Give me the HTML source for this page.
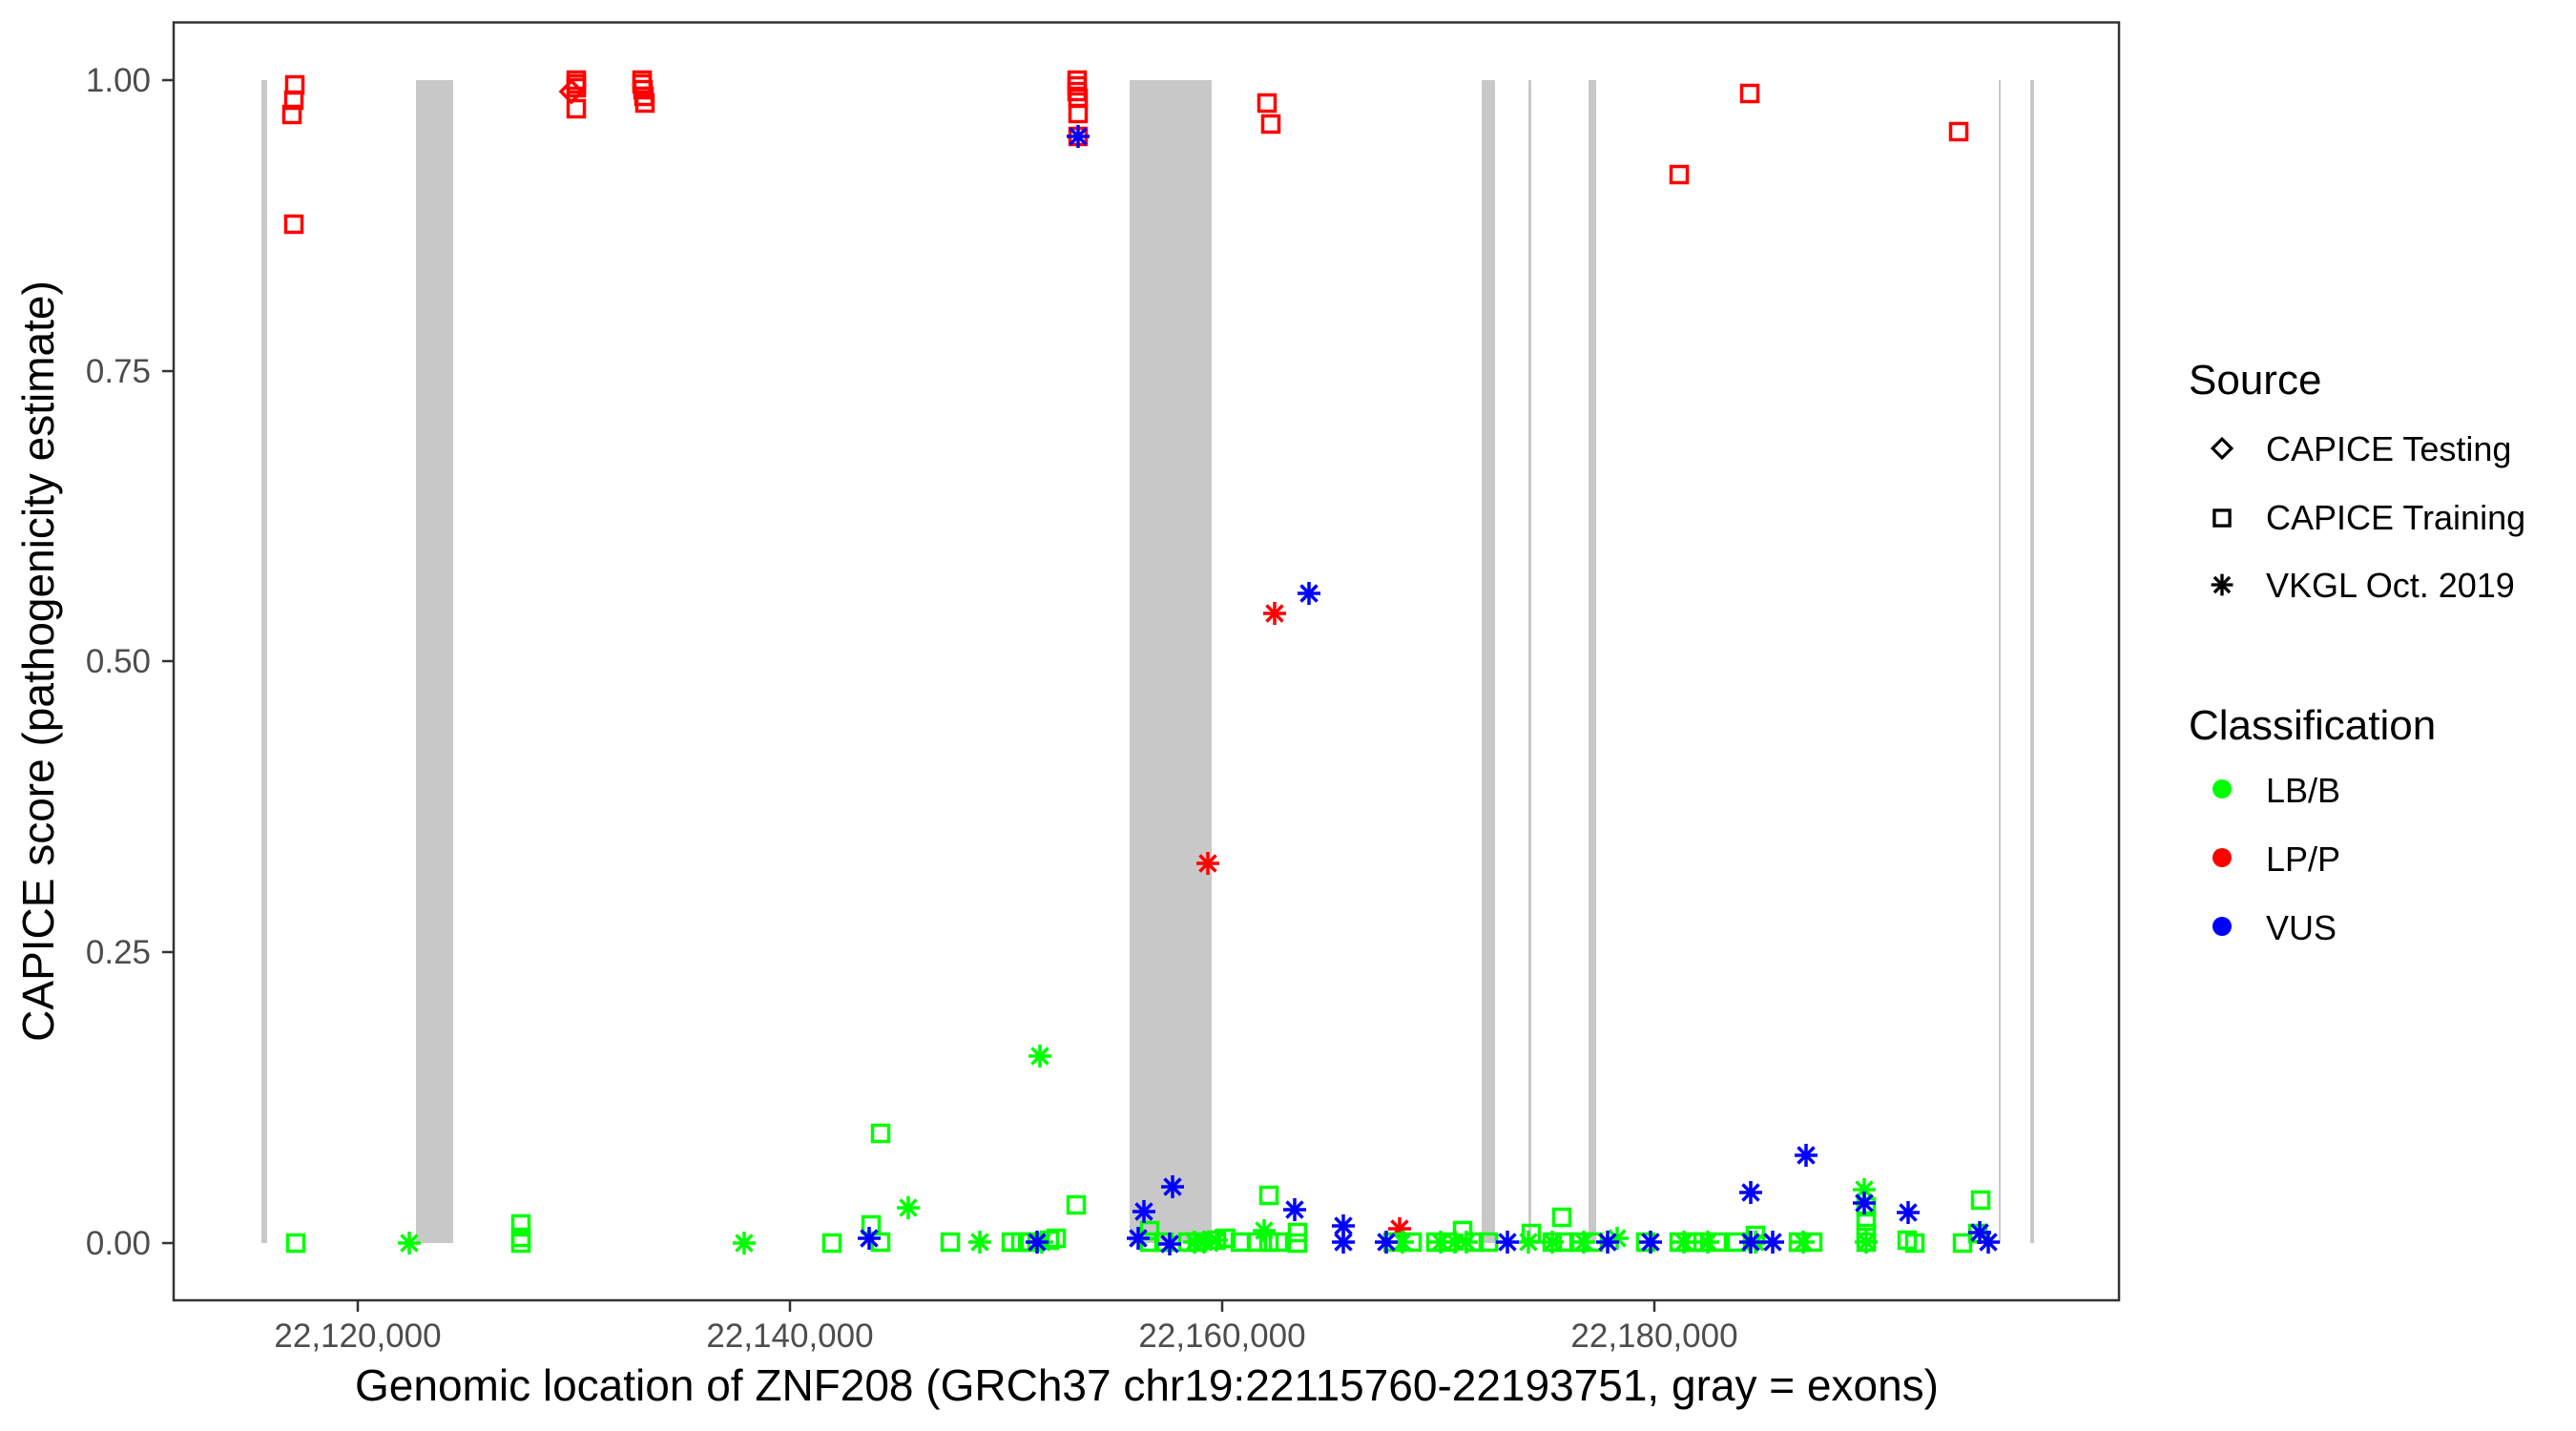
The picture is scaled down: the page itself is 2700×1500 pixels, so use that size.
<!DOCTYPE html>
<html><head><meta charset="utf-8"><style>
html,body{margin:0;padding:0;background:#fff;}
svg{display:block;font-family:"Liberation Sans",Arial,sans-serif;}
</style></head><body>
<svg width="2700" height="1500" viewBox="0 0 2700 1500" xmlns="http://www.w3.org/2000/svg">
<defs>
<g id="s"><rect x="-8.5" y="-8.5" width="17" height="17" fill="none" stroke="currentColor" stroke-width="3.5"/></g>
<g id="a" stroke="currentColor" stroke-width="3.5"><line x1="0" y1="-12" x2="0" y2="12"/><line x1="-12" y1="0" x2="12" y2="0"/><line x1="-8.5" y1="-8.5" x2="8.5" y2="8.5"/><line x1="-8.5" y1="8.5" x2="8.5" y2="-8.5"/></g>
<g id="d"><polygon points="0,-11 11,0 0,11 -11,0" fill="none" stroke="currentColor" stroke-width="3.5"/></g>
</defs>
<rect width="2700" height="1500" fill="#fff"/>
<g fill="#c8c8c8">
<rect x="274" y="84" width="6" height="1219"/>
<rect x="436" y="84" width="39" height="1219"/>
<rect x="1184" y="84" width="86" height="1219"/>
<rect x="1553" y="84" width="14" height="1219"/>
<rect x="1602" y="84" width="3" height="1219"/>
<rect x="1665" y="84" width="8" height="1219"/>
<rect x="2095" y="84" width="2" height="1219"/>
<rect x="2128" y="84" width="4" height="1219"/>
</g>
<g color="#ff0000">
<use href="#s" x="309" y="89"/><use href="#s" x="308" y="105"/><use href="#s" x="306" y="120"/><use href="#s" x="308" y="235"/>
<use href="#s" x="604" y="84"/><use href="#s" x="604" y="88"/><use href="#s" x="604" y="92"/><use href="#s" x="604" y="114"/><use href="#d" x="599" y="96"/>
<use href="#s" x="673" y="84"/><use href="#s" x="673" y="88"/><use href="#s" x="674" y="94"/><use href="#s" x="675" y="101"/><use href="#s" x="676" y="108"/>
<use href="#s" x="1129" y="84"/><use href="#s" x="1129" y="90"/><use href="#s" x="1129" y="96"/><use href="#s" x="1130" y="103"/><use href="#s" x="1130" y="119"/><use href="#s" x="1130" y="143"/>
<use href="#s" x="1328" y="108"/><use href="#s" x="1332" y="130"/>
<use href="#s" x="1760" y="183"/><use href="#s" x="1834" y="98"/><use href="#s" x="2053" y="138"/>
<use href="#a" x="1336" y="643"/><use href="#a" x="1266" y="905"/><use href="#a" x="1467" y="1288"/>
</g>
<g color="#00ff00">
<use href="#s" x="310" y="1303"/><use href="#a" x="429" y="1303"/>
<use href="#s" x="546" y="1283"/><use href="#s" x="546" y="1297"/><use href="#s" x="546" y="1303"/>
<use href="#a" x="780" y="1303"/><use href="#s" x="872" y="1303"/>
<use href="#s" x="923" y="1188"/><use href="#s" x="913" y="1284"/><use href="#s" x="923" y="1302"/>
<use href="#a" x="952" y="1266"/><use href="#s" x="996" y="1302"/><use href="#a" x="1027" y="1302"/>
<use href="#s" x="1060" y="1302"/><use href="#s" x="1070" y="1302"/><use href="#s" x="1080" y="1302"/><use href="#a" x="1092" y="1302"/><use href="#s" x="1100" y="1300"/><use href="#s" x="1107" y="1298"/>
<use href="#a" x="1090" y="1107"/><use href="#s" x="1128" y="1263"/>
<use href="#s" x="1205" y="1290"/><use href="#s" x="1205" y="1302"/><use href="#s" x="1220" y="1302"/><use href="#s" x="1245" y="1302"/><use href="#s" x="1255" y="1302"/>
<use href="#a" x="1252" y="1302"/><use href="#a" x="1262" y="1302"/><use href="#a" x="1275" y="1300"/><use href="#s" x="1275" y="1300"/><use href="#s" x="1285" y="1298"/><use href="#s" x="1300" y="1302"/>
<use href="#s" x="1330" y="1253"/><use href="#a" x="1325" y="1290"/><use href="#s" x="1318" y="1302"/><use href="#s" x="1330" y="1302"/><use href="#s" x="1340" y="1302"/>
<use href="#s" x="1360" y="1292"/><use href="#s" x="1360" y="1303"/>
<use href="#a" x="1470" y="1302"/><use href="#s" x="1480" y="1302"/><use href="#s" x="1460" y="1302"/>
<use href="#s" x="1505" y="1302"/><use href="#a" x="1510" y="1302"/><use href="#s" x="1518" y="1302"/><use href="#a" x="1525" y="1302"/><use href="#s" x="1533" y="1290"/><use href="#a" x="1537" y="1302"/><use href="#s" x="1545" y="1302"/>
<use href="#s" x="1560" y="1302"/><use href="#a" x="1602" y="1302"/><use href="#s" x="1605" y="1293"/>
<use href="#s" x="1637" y="1276"/><use href="#s" x="1627" y="1302"/><use href="#a" x="1627" y="1302"/><use href="#s" x="1640" y="1302"/><use href="#s" x="1655" y="1302"/><use href="#a" x="1660" y="1302"/><use href="#s" x="1670" y="1302"/>
<use href="#a" x="1695" y="1298"/><use href="#s" x="1725" y="1302"/>
<use href="#s" x="1760" y="1302"/><use href="#a" x="1765" y="1302"/><use href="#s" x="1775" y="1302"/><use href="#s" x="1785" y="1302"/><use href="#a" x="1790" y="1302"/><use href="#s" x="1800" y="1302"/>
<use href="#s" x="1820" y="1302"/><use href="#a" x="1840" y="1302"/><use href="#s" x="1840" y="1295"/>
<use href="#a" x="1890" y="1302"/><use href="#s" x="1885" y="1302"/><use href="#s" x="1900" y="1302"/>
<use href="#a" x="1954" y="1247"/><use href="#s" x="1956" y="1265"/><use href="#s" x="1956" y="1280"/><use href="#s" x="1956" y="1293"/><use href="#s" x="1956" y="1302"/><use href="#a" x="1956" y="1302"/>
<use href="#s" x="1999" y="1300"/><use href="#s" x="2007" y="1303"/>
<use href="#s" x="2076" y="1258"/><use href="#s" x="2057" y="1303"/><use href="#s" x="2073" y="1293"/>
</g>
<g color="#0000ff">
<use href="#a" x="1130" y="143"/><use href="#a" x="1372" y="622"/>
<use href="#a" x="911" y="1298"/><use href="#a" x="1087" y="1302"/>
<use href="#a" x="1199" y="1270"/><use href="#a" x="1229" y="1244"/><use href="#a" x="1193" y="1298"/><use href="#a" x="1226" y="1304"/>
<use href="#a" x="1357" y="1268"/>
<use href="#a" x="1408" y="1285"/><use href="#a" x="1408" y="1302"/><use href="#a" x="1453" y="1302"/>
<use href="#a" x="1580" y="1302"/><use href="#a" x="1685" y="1302"/><use href="#a" x="1730" y="1302"/>
<use href="#a" x="1835" y="1302"/><use href="#a" x="1858" y="1302"/><use href="#a" x="1835" y="1250"/><use href="#a" x="1893" y="1211"/>
<use href="#a" x="1954" y="1261"/><use href="#a" x="2000" y="1271"/><use href="#a" x="2075" y="1292"/><use href="#a" x="2084" y="1302"/>
</g>
<rect x="182" y="23.5" width="2039" height="1339.5" fill="none" stroke="#333" stroke-width="2.5"/>
<g stroke="#333" stroke-width="2.5">
<line x1="170" y1="84" x2="182" y2="84"/><line x1="170" y1="389" x2="182" y2="389"/><line x1="170" y1="693" x2="182" y2="693"/><line x1="170" y1="998" x2="182" y2="998"/><line x1="170" y1="1303" x2="182" y2="1303"/>
<line x1="375" y1="1363" x2="375" y2="1375"/><line x1="828" y1="1363" x2="828" y2="1375"/><line x1="1281" y1="1363" x2="1281" y2="1375"/><line x1="1734" y1="1363" x2="1734" y2="1375"/>
</g>
<g fill="#4d4d4d" font-size="35" text-anchor="end">
<text x="158" y="96">1.00</text><text x="158" y="401">0.75</text><text x="158" y="705">0.50</text><text x="158" y="1010">0.25</text><text x="158" y="1315">0.00</text>
</g>
<g fill="#4d4d4d" font-size="35" text-anchor="middle">
<text x="375" y="1412">22,120,000</text><text x="828" y="1412">22,140,000</text><text x="1281" y="1412">22,160,000</text><text x="1734" y="1412">22,180,000</text>
</g>
<text x="1202" y="1468" font-size="46" text-anchor="middle" fill="#000">Genomic location of ZNF208 (GRCh37 chr19:22115760-22193751, gray = exons)</text>
<text transform="translate(56,693) rotate(-90)" font-size="46" text-anchor="middle" fill="#000">CAPICE score (pathogenicity estimate)</text>
<text x="2294" y="413" font-size="44">Source</text>
<g font-size="36">
<use href="#d" color="#000" transform="translate(2329,470) scale(0.9)"/>
<text x="2375" y="483">CAPICE Testing</text>
<use href="#s" color="#000" transform="translate(2329,543) scale(0.95)"/>
<text x="2375" y="555">CAPICE Training</text>
<use href="#a" color="#000" transform="translate(2329,613) scale(0.95)"/>
<text x="2375" y="626">VKGL Oct. 2019</text>
</g>
<text x="2294" y="775" font-size="44">Classification</text>
<g font-size="36">
<circle cx="2329" cy="827" r="10" fill="#00ff00"/><text x="2375" y="841">LB/B</text>
<circle cx="2329" cy="899" r="10" fill="#ff0000"/><text x="2375" y="913">LP/P</text>
<circle cx="2329" cy="971" r="10" fill="#0000ff"/><text x="2375" y="985">VUS</text>
</g>
</svg>
</body></html>
